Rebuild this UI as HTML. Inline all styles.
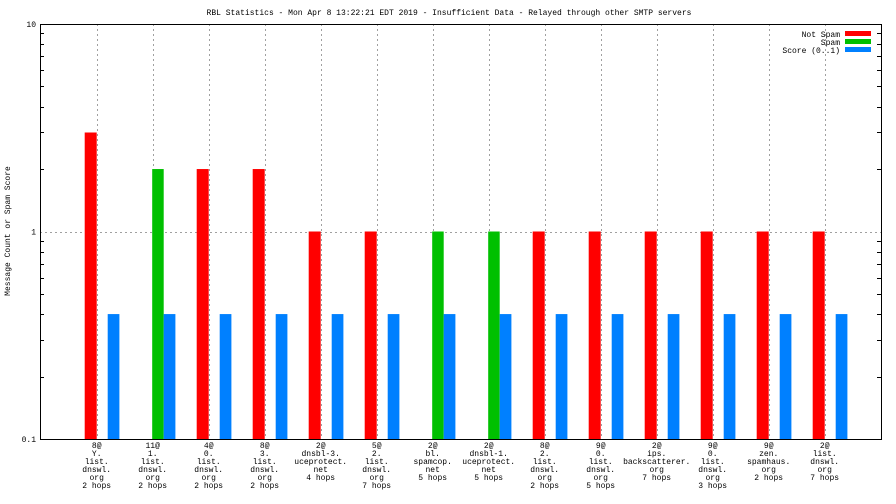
<!DOCTYPE html>
<html><head><meta charset="utf-8"><style>
body{margin:0;background:#fff}
svg{display:block;font-family:"Liberation Mono",monospace}
text{font-size:8px;fill:#000}
</style></head><body>
<svg id="chart" width="896" height="504" viewBox="0 0 896 504">
<text x="449" y="15" text-anchor="middle">RBL Statistics - Mon Apr  8 13:22:21 EDT 2019 - Insufficient Data - Relayed through other SMTP servers</text>
<text transform="translate(10,231) rotate(-90)" text-anchor="middle">Message Count or Spam Score</text>
<g id="grid"></g><g id="bars"></g>
<rect x="40.5" y="24.5" width="841" height="415" fill="none" stroke="#000" stroke-width="1"/>
<g id="axes"></g>
<g>
<text x="840" y="37" text-anchor="end">Not Spam</text>
<rect x="845" y="31" width="26" height="5" fill="#ff0000"/>
<text x="840" y="45" text-anchor="end">Spam</text>
<rect x="845" y="39" width="26" height="5" fill="#00c000"/>
<text x="840" y="53" text-anchor="end">Score (0..1)</text>
<rect x="845" y="47" width="26" height="5" fill="#0080ff"/>
</g>
<g id="xlabels"></g>
</svg>
<script>
const categories=[
["8@","Y.","list.","dnswl.","org","2 hops"],
["11@","1.","list.","dnswl.","org","2 hops"],
["4@","0.","list.","dnswl.","org","2 hops"],
["8@","3.","list.","dnswl.","org","2 hops"],
["2@","dnsbl-3.","uceprotect.","net","4 hops"],
["5@","2.","list.","dnswl.","org","7 hops"],
["2@","bl.","spamcop.","net","5 hops"],
["2@","dnsbl-1.","uceprotect.","net","5 hops"],
["8@","2.","list.","dnswl.","org","2 hops"],
["9@","0.","list.","dnswl.","org","5 hops"],
["2@","ips.","backscatterer.","org","7 hops"],
["9@","0.","list.","dnswl.","org","3 hops"],
["9@","zen.","spamhaus.","org","2 hops"],
["2@","list.","dnswl.","org","7 hops"]];
const notSpam=[3,0,2,2,1,1,0,0,1,1,1,1,1,1];
const spam=[0,2,0,0,0,0,1,1,0,0,0,0,0,0];
const score=[0.4,0.4,0.4,0.4,0.4,0.4,0.4,0.4,0.4,0.4,0.4,0.4,0.4,0.4];
const yTicks=[0.1,1,10];
const yTickLabels=["0.1","1","10"];

const NS="http://www.w3.org/2000/svg";
const yTop=24,yBot=439,yMin=0.1,yMax=10;
function y(v){return yBot-(Math.log10(v)-Math.log10(yMin))/(Math.log10(yMax)-Math.log10(yMin))*(yBot-yTop);}
function xc(i){return 96.7+i*56;}
function mk(tag,attrs,parent){const e=document.createElementNS(NS,tag);for(const k in attrs)e.setAttribute(k,attrs[k]);parent.appendChild(e);return e;}
const grid=document.getElementById('grid'),bars=document.getElementById('bars'),axes=document.getElementById('axes'),xl=document.getElementById('xlabels');

categories.forEach((c,i)=>{
 const l=mk('line',{x1:Math.round(xc(i))+0.5,x2:Math.round(xc(i))+0.5,y1:yTop,y2:yBot,stroke:'#a0a0a0','stroke-dasharray':'2,3'},grid);
 
 
 const series=[[notSpam,'#ff0000',-12,12,'bar-not-spam'],[spam,'#00c000',-0.5,11.5,'bar-spam'],[score,'#0080ff',11,11.7,'bar-score']];
 series.forEach(s=>{
  const v=s[0][i]; if(!(v>0))return;
  const top=Math.max(y(v),yTop);
  const r=mk('rect',{x:xc(i)+s[2],y:top,width:s[3],height:yBot-top,fill:s[1]},bars);
  
  
 });
 c.forEach((line,j)=>{
  const t=mk('text',{x:xc(i),y:448+j*8,'text-anchor':'middle'},xl);
  t.textContent=line;
  
  
 });
});
yTicks.forEach((v,k)=>{
 const t=mk('text',{x:36,y:y(v)+3,'text-anchor':'end'},axes);
 t.textContent=yTickLabels[k];
 
 
 if(k>0&&k<yTicks.length-1){
  const g=mk('line',{x1:40,x2:881,y1:Math.round(y(v))+0.5,y2:Math.round(y(v))+0.5,stroke:'#a0a0a0','stroke-dasharray':'2,3'},grid);
  
  
 }
 if(k<yTicks.length-1){
  for(let m=2;m<=9;m++){
   const yy=Math.round(y(v*m))+0.5,len=4;
   mk('line',{x1:40,x2:40+len,y1:yy,y2:yy,stroke:'#000'},axes);
   mk('line',{x1:881,x2:881-len,y1:yy,y2:yy,stroke:'#000'},axes);
  }
 }
});
</script>
</body></html>
